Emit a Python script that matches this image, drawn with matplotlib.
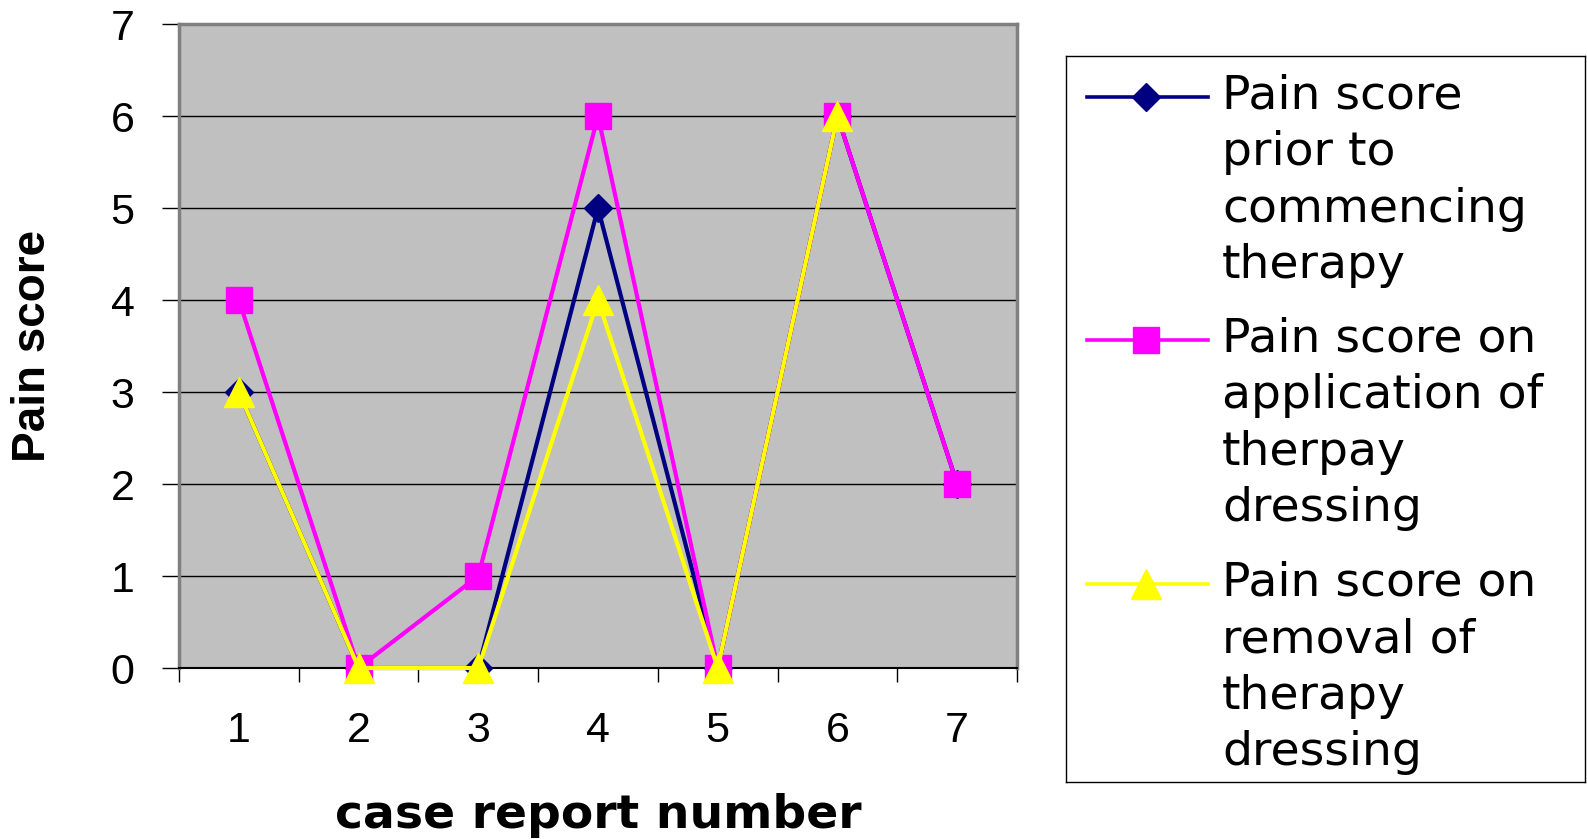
import matplotlib.pyplot as plt
from matplotlib.ticker import FixedLocator

# case report numbers and pain scores
cases = [1, 2, 3, 4, 5, 6, 7]
prior_scores = [3, 0, 0, 5, 0, 6, 2]
application_scores = [4, 0, 1, 6, 0, 6, 2]
removal_scores = [3, 0, 0, 4, 0, 6, None]

series_labels = [
    ["Pain score", "prior to", "commencing", "therapy"],
    ["Pain score on", "application of", "therpay", "dressing"],
    ["Pain score on", "removal of", "therapy", "dressing"],
]
series_colors = ["#000080", "#FF00FF", "#FFFF00"]
series_markers = ["D", "s", "^"]
series_msize = [14, 19, 21]

plt.rcParams['font.family'] = ['Liberation Sans', 'DejaVu Sans']

fig = plt.figure(figsize=(15.87, 8.39), dpi=100)
W, H = 1587, 839
ax = fig.add_axes([179 / W, 1 - 668 / H, (1017 - 179) / W, (668 - 24) / H])
ax.set_facecolor("#C0C0C0")

all_series = [prior_scores, application_scores, removal_scores]
for vals, col, mk, ms in zip(all_series, series_colors, series_markers,
                             series_msize):
    xs = [c for c, v in zip(cases, vals) if v is not None]
    ys = [v for v in vals if v is not None]
    ax.plot(xs, ys, color=col, lw=3, marker=mk, markersize=ms,
            markerfacecolor=col, markeredgecolor=col, clip_on=False,
            zorder=3)

ax.set_xlim(0.5, 7.5)
ax.set_ylim(0, 7)
ax.set_yticks(range(0, 8))
ax.set_xticks(cases)
ax.xaxis.set_minor_locator(FixedLocator([i + 0.5 for i in range(0, 8)]))
ax.tick_params(axis='x', which='major', length=0, pad=31, labelsize=31)
ax.tick_params(axis='x', which='minor', length=10, width=1, direction='out')
ax.tick_params(axis='y', which='major', length=12, width=1, pad=20,
               labelsize=31)

for y in range(1, 7):
    ax.axhline(y, color='black', lw=1, zorder=1)

for side in ['left', 'top', 'right']:
    ax.spines[side].set_color('#808080')
    ax.spines[side].set_linewidth(2.5)
ax.spines['bottom'].set_color('black')
ax.spines['bottom'].set_linewidth(1.5)

ax.set_xlabel("case report number", fontsize=34, fontweight='bold',
              family=['DejaVu Sans'])
ax.xaxis.set_label_coords(0.5, -(815 - 668) / 644)
ax.xaxis.label.set_va('center')
ax.set_ylabel("Pain score", fontsize=33, fontweight='bold')
ax.yaxis.set_label_coords(-(179 - 33) / 838, 0.5)
ax.yaxis.label.set_va('center')

# legend drawn in its own axes so the handles line up with the first line
lax = fig.add_axes([1066 / W, 1 - 782 / H, (1585 - 1066) / W, (782 - 56) / H])
lax.set_xlim(1066, 1585)
lax.set_ylim(782, 56)
lax.set_xticks([])
lax.set_yticks([])
for sp in lax.spines.values():
    sp.set_color('black')
    sp.set_linewidth(1)

handle_y = [97, 340, 584]
line_gap = 56.5
for hy, lines, col, mk, ms in zip(handle_y, series_labels, series_colors,
                                  series_markers, series_msize):
    lax.plot([1087, 1208], [hy, hy], color=col, lw=2.6)
    lax.plot([1146], [hy], marker=mk, markersize=ms, color=col)
    for i, txt in enumerate(lines):
        lax.text(1222, hy + 12 + i * line_gap, txt, fontsize=34,
                 va='baseline', ha='left', family=['DejaVu Sans'])

fig.savefig("out.png", dpi=100)
